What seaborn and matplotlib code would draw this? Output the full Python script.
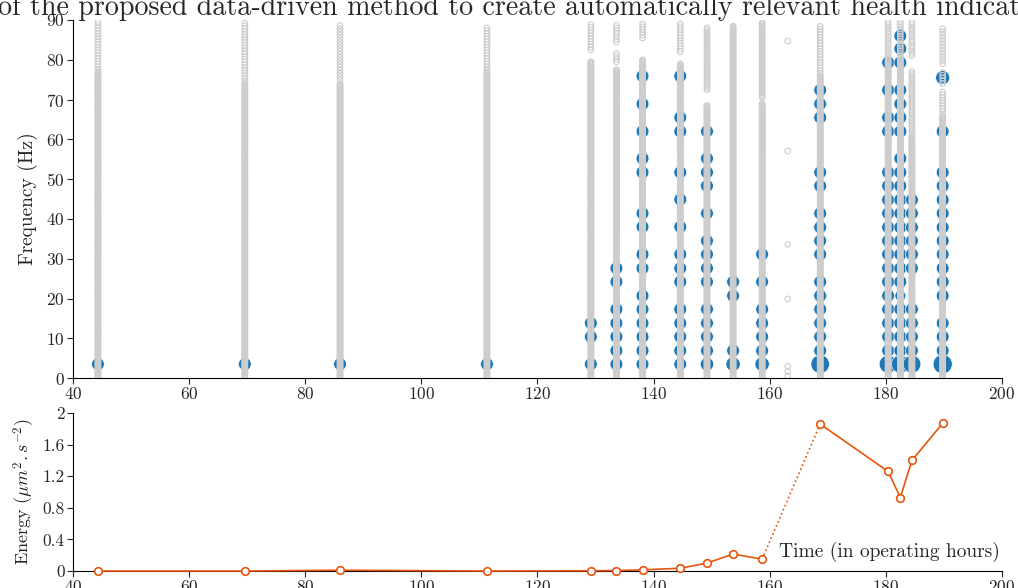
import matplotlib
matplotlib.use('Agg')
import matplotlib.pyplot as plt
import seaborn as sns
import numpy as np
import pandas as pd

# operating hours of each acquisition
times = [44.3, 69.6, 86.0, 111.3, 129.2, 133.6, 138.1, 144.6, 149.2,
         153.7, 158.7, 168.7, 180.4, 182.5, 184.5, 189.8]

# frequencies (Hz) of the selected peaks, one list per acquisition
blue_freqs = [
    [3.5],
    [3.5],
    [3.5],
    [3.5],
    [3.5, 10.4, 13.8],
    [3.5, 6.9, 10.4, 13.8, 17.3, 24.2, 27.6],
    [3.5, 6.9, 10.4, 13.8, 17.3, 20.7, 27.6, 31.1, 38.0, 41.4, 51.7, 55.2, 62.0, 68.9, 75.9],
    [3.5, 6.9, 10.4, 13.8, 17.3, 24.2, 27.6, 31.1, 38.0, 44.9, 51.7, 62.0, 65.5, 75.9],
    [3.5, 6.9, 10.4, 13.8, 17.3, 24.2, 27.6, 31.1, 34.5, 41.4, 48.3, 51.7, 55.2, 62.0],
    [3.5, 6.9, 20.7, 24.2],
    [3.5, 6.9, 10.4, 13.8, 17.3, 24.2, 31.1],
    [3.5, 6.9, 10.4, 13.8, 17.3, 20.7, 24.2, 31.1, 34.5, 37.9, 41.4, 48.3, 51.7, 65.5, 68.9, 72.4],
    [3.5, 6.9, 10.4, 13.8, 17.3, 20.7, 24.2, 27.6, 31.1, 34.5, 37.9, 41.4, 44.8, 48.3, 51.7,
     62.0, 65.5, 72.4, 79.3],
    [3.5, 6.9, 10.4, 13.8, 17.3, 20.7, 24.2, 27.6, 31.1, 34.5, 37.9, 41.4, 44.8, 48.3, 51.7,
     55.2, 62.0, 65.5, 68.9, 72.4, 79.3, 82.8, 86.0],
    [3.5, 6.9, 10.4, 13.8, 17.3, 27.6, 31.1, 34.5, 37.9, 41.4, 44.8],
    [3.5, 6.9, 10.4, 13.8, 20.7, 24.2, 27.6, 31.1, 34.5, 37.9, 41.4, 44.8, 48.3, 51.7, 62.0, 75.5],
]

# relative amplitude of the strongest peaks (others = 1)
big_peaks = {(149.2, 3.5): 1.05, (153.7, 3.5): 1.12, (158.7, 3.5): 1.12,
             (168.7, 3.5): 1.45, (180.4, 3.5): 1.4, (182.5, 3.5): 1.4,
             (184.5, 3.5): 1.4, (189.8, 3.5): 1.5, (189.8, 75.5): 1.1,
             (182.5, 20.7): 0.85}

# frequency bands (lo, hi, resolution) where all detected peaks lie
gray_bands = {
    44.3: [(0, 77, 0.25), (77.5, 89.5, 0.7)],
    69.6: [(0, 74, 0.25), (74.5, 89.5, 0.7)],
    86.0: [(0, 74, 0.25), (75, 89, 0.8)],
    111.3: [(0, 77, 0.25), (77.5, 88.5, 0.7)],
    129.2: [(0, 79.5, 0.25), (82.5, 89, 0.7)],
    133.6: [(0, 77.5, 0.25), (79.5, 82, 0.7), (84.5, 89, 0.7)],
    138.1: [(0, 80, 0.25), (85.5, 89.5, 0.7)],
    144.6: [(0, 79, 0.25), (82, 89.5, 0.7)],
    149.2: [(0, 68.5, 0.25), (72.5, 88, 0.5)],
    153.7: [(0, 88.5, 0.3)],
    158.7: [(0, 69, 0.25), (70.5, 89.5, 0.4)],
    168.7: [(0, 76, 0.25), (76.5, 89, 0.7)],
    180.4: [(0, 80, 0.25), (80.5, 89.5, 0.6)],
    182.5: [(0, 80, 0.25), (80.5, 89.5, 0.6)],
    184.5: [(0, 60.5, 0.25), (61, 77, 0.5), (81, 89.5, 0.6)],
    189.8: [(0, 66, 0.25), (67, 72, 0.7), (74, 77, 0.7), (79, 88, 0.8)],
}
sparse_time = 163.1
sparse_freqs = [0.5, 1.6, 3.0, 19.9, 33.6, 57.1, 84.7]

# energy indicator
energy_t1 = [44.3, 69.6, 86.0, 111.3, 129.2, 133.6, 138.1, 144.6, 149.2, 153.7, 158.7]
energy_v1 = [0.0, 0.0, 0.01, 0.0, 0.003, 0.006, 0.015, 0.035, 0.10, 0.215, 0.15]
energy_t2 = [168.7, 180.4, 182.5, 184.5, 189.8]
energy_v2 = [1.86, 1.26, 0.93, 1.40, 1.87]

sns.set_style('ticks')
plt.rcParams['font.family'] = ['cmr10', 'DejaVu Serif']
plt.rcParams['mathtext.fontset'] = 'cm'
plt.rcParams['axes.formatter.use_mathtext'] = True
plt.rcParams['axes.unicode_minus'] = False

blue_rows = []
for t, fl in zip(times, blue_freqs):
    for f in fl:
        blue_rows.append((t, f, big_peaks.get((t, f), 1.0)))
blue_df = pd.DataFrame(blue_rows, columns=['time', 'freq', 'amp'])

gray_rows = []
for t, bands in gray_bands.items():
    for lo, hi, step in bands:
        for f in np.arange(lo, hi + 1e-9, step):
            gray_rows.append((t, f))
for f in sparse_freqs:
    gray_rows.append((sparse_time, f))
gray_df = pd.DataFrame(gray_rows, columns=['time', 'freq'])

fig = plt.figure(figsize=(10.18, 5.88), dpi=100)
ax1 = fig.add_axes([0.0717, 0.357, 0.9125, 0.609])
ax2 = fig.add_axes([0.0717, 0.0289, 0.9125, 0.2687])

sns.scatterplot(data=blue_df, x='time', y='freq', s=blue_df['amp'] ** 2 * 85,
                color='#1f77b4', edgecolor='white', linewidth=0.5, ax=ax1,
                legend=False)
sns.scatterplot(data=gray_df, x='time', y='freq', s=16, color='#d0d0d0',
                linewidth=0.8, ax=ax1, legend=False)
blue_pts, gray_pts = ax1.collections[0], ax1.collections[1]
blue_pts.set_zorder(2)
gray_pts.set_zorder(3)
gray_pts.set_facecolor('none')
gray_pts.set_edgecolor('#cdcdcd')

ax1.set_xlim(40, 200)
ax1.set_ylim(0, 90)
ax1.set_xticks(range(40, 201, 20))
ax1.set_yticks(range(0, 91, 10))
ax1.set_xlabel('')
ax1.set_ylabel('Frequency (Hz)', fontsize=14, labelpad=6)

orange = '#e6550d'
for tt, vv in ((energy_t1, energy_v1), (energy_t2, energy_v2)):
    sns.lineplot(x=tt, y=vv, color=orange, marker='o', markersize=5.5,
                 markerfacecolor='white', markeredgecolor=orange, markeredgewidth=1.2,
                 linewidth=1.2, ax=ax2, zorder=3, clip_on=False)
ax2.plot([energy_t1[-1], energy_t2[0]], [energy_v1[-1], energy_v2[0]],
         color=orange, linestyle=':', linewidth=1.2, zorder=2)

ax2.set_xlim(40, 200)
ax2.set_ylim(0, 2)
ax2.set_xticks(range(40, 201, 20))
ax2.set_yticks([0, 0.4, 0.8, 1.2, 1.6, 2])
ax2.set_yticklabels(['0', '0.4', '0.8', '1.2', '1.6', '2'])
ax2.set_ylabel(r'Energy ($\mu m^2.s^{-2}$)', fontsize=13, labelpad=4)
ax2.text(0.998, 0.06, 'Time (in operating hours)', transform=ax2.transAxes,
         ha='right', va='bottom', fontsize=14)

for ax in (ax1, ax2):
    sns.despine(ax=ax)
    ax.tick_params(labelsize=12.5, length=4, width=0.8, direction='out', pad=2)
    for sp in ('left', 'bottom'):
        ax.spines[sp].set_color('black')
        ax.spines[sp].set_linewidth(0.8)

fig.text(-0.002, 0.9745, 'of the proposed data-driven method to create automatically relevant health indicators',
         ha='left', va='baseline', fontsize=20.2)

fig.savefig('out.png', dpi=100)
